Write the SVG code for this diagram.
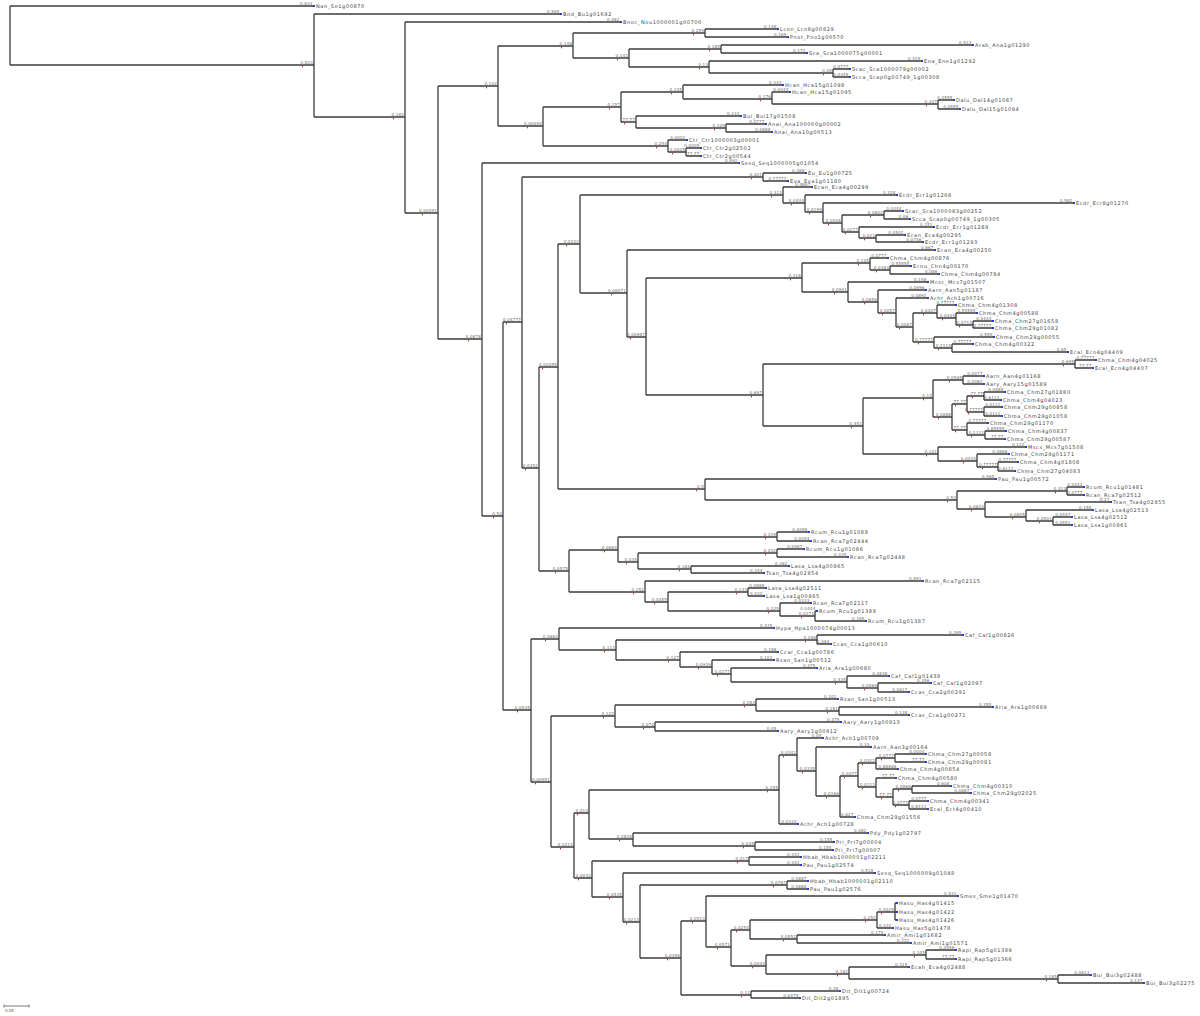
<svg xmlns="http://www.w3.org/2000/svg" width="1200" height="1016" viewBox="0 0 1200 1016">
<style>
.b{fill:none;stroke:#3c3c3c;stroke-width:1.3}
.n{font-family:"DejaVu Sans",sans-serif;font-size:5px;letter-spacing:0.6px;fill:#444}
.l{font-family:"DejaVu Sans",sans-serif;font-size:4px;letter-spacing:0.2px;fill:#666;text-anchor:end}
.t{fill:#2a3bd0}
.r{fill:#d02020}
</style>
<rect width="1200" height="1016" fill="#fff"/>
<g id="connectors">
<path class="b" d="M10 6V65M10 6H313M10 65H314M314 14V117M314 14H560M314 117H405M405 22V213M405 22H620M405 213H438M438 86V339M438 86H498M498 46V126M498 46H573M573 33V58M573 33H705M705 29V37M705 29H777M705 37H787M573 58H629M629 49V67M629 49H721M721 45V53M721 45H972M721 53H806M629 67H709M709 61V73M709 61H921M709 73H833M833 69V77M833 69H849M833 77H849M498 126H543M543 107V146M543 107H621M621 92V122M621 92H683M683 85V99M683 85H782M683 99H772M772 92V104M772 92H789M772 104H938M938 100V109M938 100H953M938 109H959M621 122H636M636 116V128M636 116H740M636 128H726M726 124V132M726 124H765M726 132H771M543 146H668M668 140V152M668 140H686M668 152H686M686 148V156M686 148H700M686 156H700"/>
<path class="b" d="M438 339H482M482 163V516M482 163H738M482 516H503M503 322V710M503 322H522M522 177V468M522 177H763M763 173V181M763 173H805M763 181H787M522 468H539M539 367V571M539 367H558M558 244V489M558 244H580M580 195V293M580 195H783M783 187V203M783 187H811M783 203H805M805 195V212M805 195H896M805 212H823M823 203V223M823 203H1073M823 223H842M842 215V232M842 215H884M842 232H859M884 211V219M884 211H902M884 219H909M859 227V238M859 227H933M859 238H876M876 235V242M876 235H904M876 242H922M580 293H627M627 250V337M627 250H934M627 337H646M646 278V395M646 278H802M802 263V292M802 263H870M870 258V270M870 258H887M870 270H890M890 266V274M890 266H910M890 274H938M802 292H848M848 282V302M848 282H927M848 302H878M878 290V313M878 290H925M878 313H896M896 298V327M896 298H927M896 327H913M913 313V342M913 313H937M937 305V318M937 305H955M937 318H956M956 313V325M956 313H976M956 325H973M973 321V328M973 321H992M973 328H992M913 342H934M934 337V348M934 337H993M934 348H952M952 344V352M952 344H972M952 352H1067"/>
<path class="b" d="M646 395H763M763 364V426M763 364H1075M1075 360V368M1075 360H1095M1075 368H1092M763 426H863M863 398V454M863 398H933M933 380V417M933 380H963M963 376V384M963 376H983M963 384H983M933 417H952M952 404V430M952 404H967M967 396V412M967 396H984M984 392V400M984 392H1004M984 400H1000M967 412H984M984 407V416M984 407H1001M984 416H1001M952 430H967M967 423V435M967 423H987M967 435H985M985 431V439M985 431H1005M985 439H1004M863 454H938M938 447V461M938 447H1025M938 461H977M977 454V467M977 454H1008M977 467H998M998 462V471M998 462H1017M998 471H1014M558 489H705M705 479V500M705 479H995M705 500H957M957 491V509M957 491H1067M1067 487V495M1067 487H1083M1067 495H1083M957 509H985M985 502V517M985 502H1110M985 517H1026M1026 510V521M1026 510H1092M1026 521H1053M1053 517V525M1053 517H1071M1053 525H1071"/>
<path class="b" d="M539 571H569M569 550V592M569 550H618M618 537V562M618 537H777M777 532V541M777 532H808M777 541H810M618 562H638M638 553V569M638 553H777M777 549V557M777 549H803M777 557H847M638 569H691M691 566V573M691 566H788M691 573H763M569 592H645M645 581V602M645 581H922M645 602H668M668 592V611M668 592H748M748 588V596M748 588H765M748 596H763M668 611H780M780 603V616M780 603H810M780 616H815M815 611V621M815 611H816M815 621H865"/>
<path class="b" d="M503 710H531M531 639V782M531 639H559M559 628V650M559 628H773M559 650H616M616 640V660M616 640H817M817 635V644M817 635H962M817 644H830M616 660H680M680 652V667M680 652H777M680 667H712M712 660V674M712 660H773M712 674H731M731 668V682M731 668H816M731 682H847M847 676V688M847 676H888M847 688H878M878 683V692M878 683H930M878 692H908M531 782H551M551 716V847M551 716H615M615 705V727M615 705H756M756 699V711M756 699H837M756 711H839M839 707V715M839 707H992M839 715H908M615 727H655M655 722V731M655 722H840M655 731H777"/>
<path class="b" d="M551 847H574M574 813V878M574 813H589M589 790V839M589 790H779M779 755V824M779 755H797M797 738V771M797 738H822M797 771H816M816 747V796M816 747H870M816 796H840M840 776V817M840 776H858M858 763V787M858 763H876M876 758V769M876 758H895M876 769H897M895 754V762M895 754H925M895 762H925M858 787H876M876 778V797M876 778H895M876 797H893M893 789V805M893 789H912M912 786V793M912 786H950M912 793H970M893 805H909M909 801V809M909 801H927M909 809H927M840 817H854M779 824H797M589 839H633M633 833V846M633 833H867M633 846H755M755 842V850M755 842H833M755 850H832"/>
<path class="b" d="M574 878H592M592 861V897M592 861H749M749 857V865M749 857H800M749 865H800M592 897H623M623 873V922M623 873H874M623 922H640M640 885V958M640 885H787M787 881V889M787 881H807M787 889H807M640 958H681M681 921V995M681 921H706M706 896V947M706 896H957M706 947H731M731 930V966M731 930H750M750 920V939M750 920H877M877 912V928M877 912H895M877 928H892M895 903V920M895 903H896M895 912H896M895 920H896M750 939H797M797 935V943M797 935H884M797 943H910M731 966H766M766 955V974M766 955H926M926 950V959M926 950H955M926 959H955M766 974H849M849 967V979M849 967H908M849 979H1058M1058 975V983M1058 975H1090M1058 983H1143M681 995H751M751 991V998M751 991H839M751 998H799"/>
</g>
<g id="internal-nodes">
<g id="N314"><text class="l" x="313" y="64.2">0.833</text><rect class="r" x="302" y="65.8" width="1" height="1.5"/></g>
<g id="N405"><text class="l" x="404" y="116.2">0.182</text><rect class="r" x="393" y="117.8" width="1" height="1.5"/></g>
<g id="N438"><text class="l" x="437" y="212.2">0.00091</text><rect class="r" x="422" y="213.8" width="1" height="1.5"/></g>
<g id="N498"><text class="l" x="497" y="85.2">0.102</text><rect class="r" x="486" y="86.8" width="1" height="1.5"/></g>
<g id="N573"><text class="l" x="572" y="45.2">0.148</text><rect class="r" x="561" y="46.8" width="1" height="1.5"/></g>
<g id="N705a"><text class="l" x="704" y="32.2">0.259</text><rect class="r" x="693" y="33.8" width="1" height="1.5"/></g>
<g id="N629"><text class="l" x="628" y="57.2">0.143</text><rect class="r" x="617" y="58.8" width="1" height="1.5"/></g>
<g id="N721"><text class="l" x="720" y="48.2">0.185</text><rect class="r" x="709" y="49.8" width="1" height="1.5"/></g>
<g id="N709"><text class="l" x="708" y="66.2">0.13</text><rect class="r" x="699" y="67.8" width="1" height="1.5"/></g>
<g id="N833"><text class="l" x="832" y="72.2">0.05</text><rect class="r" x="823" y="73.8" width="1" height="1.5"/></g>
<g id="N543"><text class="l" x="542" y="125.2">0.00094</text><rect class="r" x="527" y="126.8" width="1" height="1.5"/></g>
<g id="N621"><text class="l" x="620" y="106.2">0.157</text><rect class="r" x="609" y="107.8" width="1" height="1.5"/></g>
<g id="N683"><text class="l" x="682" y="91.2">0.105</text><rect class="r" x="671" y="92.8" width="1" height="1.5"/></g>
<g id="N772"><text class="l" x="771" y="98.2">0.176</text><rect class="r" x="760" y="99.8" width="1" height="1.5"/></g>
<g id="N938a"><text class="l" x="937" y="103.2">0.347</text><rect class="r" x="926" y="104.8" width="1" height="1.5"/></g>
<g id="N636"><text class="l" x="635" y="121.2">77.77</text><rect class="r" x="624" y="122.8" width="1" height="1.5"/></g>
<g id="N726"><text class="l" x="725" y="127.2">0.109</text><rect class="r" x="714" y="128.8" width="1" height="1.5"/></g>
<g id="N668a"><text class="l" x="667" y="145.2">0.254</text><rect class="r" x="656" y="146.8" width="1" height="1.5"/></g>
<g id="N686"><text class="l" x="685" y="151.2">0.0005</text><rect class="r" x="672" y="152.8" width="1" height="1.5"/></g>
<g id="N482"><text class="l" x="481" y="338.2">0.0878</text><rect class="r" x="468" y="339.8" width="1" height="1.5"/></g>
<g id="N503"><text class="l" x="502" y="515.2">0.54</text><rect class="r" x="493" y="516.8" width="1" height="1.5"/></g>
<g id="N522"><text class="l" x="521" y="321.2">0.04777</text><rect class="r" x="506" y="322.8" width="1" height="1.5"/></g>
<g id="N763a"><text class="l" x="762" y="176.2">0.401</text><rect class="r" x="751" y="177.8" width="1" height="1.5"/></g>
<g id="N539"><text class="l" x="538" y="467.2">0.0452</text><rect class="r" x="525" y="468.8" width="1" height="1.5"/></g>
<g id="N558"><text class="l" x="557" y="366.2">0.00095</text><rect class="r" x="542" y="367.8" width="1" height="1.5"/></g>
<g id="N580"><text class="l" x="579" y="243.2">0.0222</text><rect class="r" x="566" y="244.8" width="1" height="1.5"/></g>
<g id="N783"><text class="l" x="782" y="194.2">0.312</text><rect class="r" x="771" y="195.8" width="1" height="1.5"/></g>
<g id="N805"><text class="l" x="804" y="202.2">0.0444</text><rect class="r" x="791" y="203.8" width="1" height="1.5"/></g>
<g id="N823"><text class="l" x="822" y="211.2">0.0199</text><rect class="r" x="809" y="212.8" width="1" height="1.5"/></g>
<g id="N842"><text class="l" x="841" y="222.2">0.0006</text><rect class="r" x="828" y="223.8" width="1" height="1.5"/></g>
<g id="N884"><text class="l" x="883" y="214.2">0.0602</text><rect class="r" x="870" y="215.8" width="1" height="1.5"/></g>
<g id="N859"><text class="l" x="858" y="231.2">0.0277</text><rect class="r" x="845" y="232.8" width="1" height="1.5"/></g>
<g id="N876a"><text class="l" x="875" y="237.2">0.023</text><rect class="r" x="864" y="238.8" width="1" height="1.5"/></g>
<g id="N627"><text class="l" x="626" y="292.2">0.00071</text><rect class="r" x="611" y="293.8" width="1" height="1.5"/></g>
<g id="N646"><text class="l" x="645" y="336.2">0.00987</text><rect class="r" x="630" y="337.8" width="1" height="1.5"/></g>
<g id="N802"><text class="l" x="801" y="277.2">0.316</text><rect class="r" x="790" y="278.8" width="1" height="1.5"/></g>
<g id="N870"><text class="l" x="869" y="262.2">0.105</text><rect class="r" x="858" y="263.8" width="1" height="1.5"/></g>
<g id="N890"><text class="l" x="889" y="269.2">0.0383</text><rect class="r" x="876" y="270.8" width="1" height="1.5"/></g>
<g id="N848"><text class="l" x="847" y="291.2">0.0901</text><rect class="r" x="834" y="292.8" width="1" height="1.5"/></g>
<g id="N878a"><text class="l" x="877" y="301.2">0.0656</text><rect class="r" x="864" y="302.8" width="1" height="1.5"/></g>
<g id="N896"><text class="l" x="895" y="312.2">0.0057</text><rect class="r" x="882" y="313.8" width="1" height="1.5"/></g>
<g id="N913"><text class="l" x="912" y="326.2">0.0067</text><rect class="r" x="899" y="327.8" width="1" height="1.5"/></g>
<g id="N937"><text class="l" x="936" y="312.2">0.0447</text><rect class="r" x="923" y="313.8" width="1" height="1.5"/></g>
<g id="N956"><text class="l" x="955" y="317.2">0.0444</text><rect class="r" x="942" y="318.8" width="1" height="1.5"/></g>
<g id="N973"><text class="l" x="972" y="324.2">0.0714</text><rect class="r" x="959" y="325.8" width="1" height="1.5"/></g>
<g id="N934"><text class="l" x="933" y="341.2">0.77777</text><rect class="r" x="918" y="342.8" width="1" height="1.5"/></g>
<g id="N952a"><text class="l" x="951" y="347.2">0.2114</text><rect class="r" x="938" y="348.8" width="1" height="1.5"/></g>
<g id="N763b"><text class="l" x="762" y="394.2">0.697</text><rect class="r" x="751" y="395.8" width="1" height="1.5"/></g>
<g id="N1075"><text class="l" x="1074" y="363.2">0.695</text><rect class="r" x="1063" y="364.8" width="1" height="1.5"/></g>
<g id="N863"><text class="l" x="862" y="425.2">0.451</text><rect class="r" x="851" y="426.8" width="1" height="1.5"/></g>
<g id="N933"><text class="l" x="932" y="397.2">0.14</text><rect class="r" x="923" y="398.8" width="1" height="1.5"/></g>
<g id="N963"><text class="l" x="962" y="379.2">0.0565</text><rect class="r" x="949" y="380.8" width="1" height="1.5"/></g>
<g id="N952b"><text class="l" x="951" y="416.2">0.0888</text><rect class="r" x="938" y="417.8" width="1" height="1.5"/></g>
<g id="N967a"><text class="l" x="966" y="403.2">77.77</text><rect class="r" x="955" y="404.8" width="1" height="1.5"/></g>
<g id="N984a"><text class="l" x="983" y="395.2">77.77</text><rect class="r" x="972" y="396.8" width="1" height="1.5"/></g>
<g id="N984b"><text class="l" x="983" y="411.2">0.77777</text><rect class="r" x="968" y="412.8" width="1" height="1.5"/></g>
<g id="N967b"><text class="l" x="966" y="429.2">77.77</text><rect class="r" x="955" y="430.8" width="1" height="1.5"/></g>
<g id="N985a"><text class="l" x="984" y="434.2">0.2111</text><rect class="r" x="971" y="435.8" width="1" height="1.5"/></g>
<g id="N938b"><text class="l" x="937" y="453.2">0.101</text><rect class="r" x="926" y="454.8" width="1" height="1.5"/></g>
<g id="N977"><text class="l" x="976" y="460.2">0.0034</text><rect class="r" x="963" y="461.8" width="1" height="1.5"/></g>
<g id="N998"><text class="l" x="997" y="466.2">0.77777</text><rect class="r" x="982" y="467.8" width="1" height="1.5"/></g>
<g id="N705b"><text class="l" x="704" y="488.2">0.5</text><rect class="r" x="696" y="489.8" width="1" height="1.5"/></g>
<g id="N957"><text class="l" x="956" y="499.2">0.53</text><rect class="r" x="947" y="500.8" width="1" height="1.5"/></g>
<g id="N1067"><text class="l" x="1066" y="490.2">0.323</text><rect class="r" x="1055" y="491.8" width="1" height="1.5"/></g>
<g id="N985b"><text class="l" x="984" y="508.2">0.0643</text><rect class="r" x="971" y="509.8" width="1" height="1.5"/></g>
<g id="N1026"><text class="l" x="1025" y="516.2">0.0805</text><rect class="r" x="1012" y="517.8" width="1" height="1.5"/></g>
<g id="N1053"><text class="l" x="1052" y="520.2">0.0501</text><rect class="r" x="1039" y="521.8" width="1" height="1.5"/></g>
<g id="N569"><text class="l" x="568" y="570.2">0.0575</text><rect class="r" x="555" y="571.8" width="1" height="1.5"/></g>
<g id="N618"><text class="l" x="617" y="549.2">0.0664</text><rect class="r" x="604" y="550.8" width="1" height="1.5"/></g>
<g id="N777a"><text class="l" x="776" y="536.2">0.319</text><rect class="r" x="765" y="537.8" width="1" height="1.5"/></g>
<g id="N638"><text class="l" x="637" y="561.2">0.035</text><rect class="r" x="626" y="562.8" width="1" height="1.5"/></g>
<g id="N777b"><text class="l" x="776" y="552.2">0.202</text><rect class="r" x="765" y="553.8" width="1" height="1.5"/></g>
<g id="N691"><text class="l" x="690" y="568.2">0.184</text><rect class="r" x="679" y="569.8" width="1" height="1.5"/></g>
<g id="N645"><text class="l" x="644" y="591.2">0.152</text><rect class="r" x="633" y="592.8" width="1" height="1.5"/></g>
<g id="N668b"><text class="l" x="667" y="601.2">0.0455</text><rect class="r" x="654" y="602.8" width="1" height="1.5"/></g>
<g id="N748"><text class="l" x="747" y="591.2">0.133</text><rect class="r" x="736" y="592.8" width="1" height="1.5"/></g>
<g id="N780"><text class="l" x="779" y="610.2">0.225</text><rect class="r" x="768" y="611.8" width="1" height="1.5"/></g>
<g id="N815"><text class="l" x="814" y="615.2">0.0274</text><rect class="r" x="801" y="616.8" width="1" height="1.5"/></g>
<g id="N531"><text class="l" x="530" y="709.2">0.0535</text><rect class="r" x="517" y="710.8" width="1" height="1.5"/></g>
<g id="N559"><text class="l" x="558" y="638.2">0.0664</text><rect class="r" x="545" y="639.8" width="1" height="1.5"/></g>
<g id="N616"><text class="l" x="615" y="649.2">0.113</text><rect class="r" x="604" y="650.8" width="1" height="1.5"/></g>
<g id="N817"><text class="l" x="816" y="639.2">0.268</text><rect class="r" x="805" y="640.8" width="1" height="1.5"/></g>
<g id="N680"><text class="l" x="679" y="659.2">0.127</text><rect class="r" x="668" y="660.8" width="1" height="1.5"/></g>
<g id="N712"><text class="l" x="711" y="666.2">0.0939</text><rect class="r" x="698" y="667.8" width="1" height="1.5"/></g>
<g id="N731a"><text class="l" x="730" y="673.2">0.0277</text><rect class="r" x="717" y="674.8" width="1" height="1.5"/></g>
<g id="N847"><text class="l" x="846" y="681.2">0.435</text><rect class="r" x="835" y="682.8" width="1" height="1.5"/></g>
<g id="N878b"><text class="l" x="877" y="687.2">0.0569</text><rect class="r" x="864" y="688.8" width="1" height="1.5"/></g>
<g id="N551"><text class="l" x="550" y="781.2">0.00951</text><rect class="r" x="535" y="782.8" width="1" height="1.5"/></g>
<g id="N615"><text class="l" x="614" y="715.2">0.122</text><rect class="r" x="603" y="716.8" width="1" height="1.5"/></g>
<g id="N756"><text class="l" x="755" y="704.2">0.283</text><rect class="r" x="744" y="705.8" width="1" height="1.5"/></g>
<g id="N839"><text class="l" x="838" y="710.2">0.161</text><rect class="r" x="827" y="711.8" width="1" height="1.5"/></g>
<g id="N655"><text class="l" x="654" y="726.2">0.074</text><rect class="r" x="643" y="727.8" width="1" height="1.5"/></g>
<g id="N574"><text class="l" x="573" y="846.2">0.0414</text><rect class="r" x="560" y="847.8" width="1" height="1.5"/></g>
<g id="N589"><text class="l" x="588" y="812.2">0.014</text><rect class="r" x="577" y="813.8" width="1" height="1.5"/></g>
<g id="N779"><text class="l" x="778" y="789.2">0.155</text><rect class="r" x="767" y="790.8" width="1" height="1.5"/></g>
<g id="N797a"><text class="l" x="796" y="754.2">0.0341</text><rect class="r" x="783" y="755.8" width="1" height="1.5"/></g>
<g id="N816"><text class="l" x="815" y="770.2">0.0335</text><rect class="r" x="802" y="771.8" width="1" height="1.5"/></g>
<g id="N840"><text class="l" x="839" y="795.2">0.0166</text><rect class="r" x="826" y="796.8" width="1" height="1.5"/></g>
<g id="N858"><text class="l" x="857" y="775.2">0.0477</text><rect class="r" x="844" y="776.8" width="1" height="1.5"/></g>
<g id="N876b"><text class="l" x="875" y="762.2">0.0322</text><rect class="r" x="862" y="763.8" width="1" height="1.5"/></g>
<g id="N895a"><text class="l" x="894" y="757.2">0.0777</text><rect class="r" x="881" y="758.8" width="1" height="1.5"/></g>
<g id="N876c"><text class="l" x="875" y="786.2">0.0111</text><rect class="r" x="862" y="787.8" width="1" height="1.5"/></g>
<g id="N893"><text class="l" x="892" y="796.2">77.77</text><rect class="r" x="881" y="797.8" width="1" height="1.5"/></g>
<g id="N912"><text class="l" x="911" y="788.2">0.0868</text><rect class="r" x="898" y="789.8" width="1" height="1.5"/></g>
<g id="N909"><text class="l" x="908" y="804.2">0.0777</text><rect class="r" x="895" y="805.8" width="1" height="1.5"/></g>
<g id="N633"><text class="l" x="632" y="838.2">0.0828</text><rect class="r" x="619" y="839.8" width="1" height="1.5"/></g>
<g id="N755"><text class="l" x="754" y="845.2">0.045</text><rect class="r" x="743" y="846.8" width="1" height="1.5"/></g>
<g id="N592"><text class="l" x="591" y="877.2">0.0032</text><rect class="r" x="578" y="878.8" width="1" height="1.5"/></g>
<g id="N749"><text class="l" x="748" y="860.2">0.017</text><rect class="r" x="737" y="861.8" width="1" height="1.5"/></g>
<g id="N623"><text class="l" x="622" y="896.2">0.0535</text><rect class="r" x="609" y="897.8" width="1" height="1.5"/></g>
<g id="N787"><text class="l" x="786" y="884.2">0.0767</text><rect class="r" x="773" y="885.8" width="1" height="1.5"/></g>
<g id="N640"><text class="l" x="639" y="921.2">0.0213</text><rect class="r" x="626" y="922.8" width="1" height="1.5"/></g>
<g id="N681"><text class="l" x="680" y="957.2">0.0356</text><rect class="r" x="667" y="958.8" width="1" height="1.5"/></g>
<g id="N706"><text class="l" x="705" y="920.2">0.0513</text><rect class="r" x="692" y="921.8" width="1" height="1.5"/></g>
<g id="N731b"><text class="l" x="730" y="946.2">0.0571</text><rect class="r" x="717" y="947.8" width="1" height="1.5"/></g>
<g id="N750"><text class="l" x="749" y="929.2">0.0254</text><rect class="r" x="736" y="930.8" width="1" height="1.5"/></g>
<g id="N877"><text class="l" x="876" y="919.2">0.252</text><rect class="r" x="865" y="920.8" width="1" height="1.5"/></g>
<g id="N895b"><text class="l" x="894" y="911.2">0.0025</text><rect class="r" x="881" y="912.8" width="1" height="1.5"/></g>
<g id="N797b"><text class="l" x="796" y="938.2">0.0552</text><rect class="r" x="783" y="939.8" width="1" height="1.5"/></g>
<g id="N766"><text class="l" x="765" y="965.2">0.0044</text><rect class="r" x="752" y="966.8" width="1" height="1.5"/></g>
<g id="N926"><text class="l" x="925" y="954.2">0.345</text><rect class="r" x="914" y="955.8" width="1" height="1.5"/></g>
<g id="N849"><text class="l" x="848" y="973.2">0.182</text><rect class="r" x="837" y="974.8" width="1" height="1.5"/></g>
<g id="N1058"><text class="l" x="1057" y="978.2">0.185</text><rect class="r" x="1046" y="979.8" width="1" height="1.5"/></g>
<g id="N751"><text class="l" x="750" y="994.2">0.11</text><rect class="r" x="741" y="995.8" width="1" height="1.5"/></g>
</g>
<g id="leaves">
<g id="L1"><rect class="t" x="313" y="5" width="2" height="2"/><text class="l" x="312.5" y="5.2">0.833</text><text class="n" x="316" y="8">Nan_Se1g00870</text></g>
<g id="L2"><rect class="t" x="560" y="13" width="2" height="2"/><text class="l" x="559.5" y="13.2">0.565</text><text class="n" x="563" y="16">Bnd_Bu1g01692</text></g>
<g id="L3"><rect class="t" x="620" y="21" width="2" height="2"/><text class="l" x="619.5" y="21.2">0.482</text><text class="n" x="623" y="24">Bnoc_Nou1000001g00700</text></g>
<g id="L4"><rect class="t" x="777" y="28" width="2" height="2"/><text class="l" x="776.5" y="28.2">0.148</text><text class="n" x="780" y="31">Lcon_Lcn8g00829</text></g>
<g id="L5"><rect class="t" x="787" y="36" width="2" height="2"/><text class="l" x="786.5" y="36.2">0.169</text><text class="n" x="790" y="39">Pnot_Pno1g00570</text></g>
<g id="L6"><rect class="t" x="972" y="44" width="2" height="2"/><text class="l" x="971.5" y="44.2">0.513</text><text class="n" x="975" y="47">Arab_Ana1g01290</text></g>
<g id="L7"><rect class="t" x="806" y="52" width="2" height="2"/><text class="l" x="805.5" y="52.2">0.172</text><text class="n" x="809" y="55">Sca_Sca1000075g00001</text></g>
<g id="L8"><rect class="t" x="921" y="60" width="2" height="2"/><text class="l" x="920.5" y="60.2">0.419</text><text class="n" x="924" y="63">Ena_Ene1g01292</text></g>
<g id="L9"><rect class="t" x="849" y="68" width="2" height="2"/><text class="l" x="848.5" y="68.2">0.0777</text><text class="n" x="852" y="71">Scac_Sca1000079g00002</text></g>
<g id="L10"><rect class="t" x="849" y="76" width="2" height="2"/><text class="l" x="848.5" y="76.2">0.0345</text><text class="n" x="852" y="79">Scca_Scap0g00749_1g00308</text></g>
<g id="L11"><rect class="t" x="782" y="84" width="2" height="2"/><text class="l" x="781.5" y="84.2">0.333</text><text class="n" x="785" y="87">Hcan_Hca15g01098</text></g>
<g id="L12"><rect class="t" x="789" y="91" width="2" height="2"/><text class="l" x="788.5" y="91.2">0.0444</text><text class="n" x="792" y="94">Hcan_Hca15g01095</text></g>
<g id="L13"><rect class="t" x="953" y="99" width="2" height="2"/><text class="l" x="952.5" y="99.2">0.0555</text><text class="n" x="956" y="102">Dalu_Dal14g01087</text></g>
<g id="L14"><rect class="t" x="959" y="108" width="2" height="2"/><text class="l" x="958.5" y="108.2">0.0555</text><text class="n" x="962" y="111">Dalu_Dal15g01094</text></g>
<g id="L15"><rect class="t" x="740" y="115" width="2" height="2"/><text class="l" x="739.5" y="115.2">0.233</text><text class="n" x="743" y="118">Bui_Bui17g01508</text></g>
<g id="L16"><rect class="t" x="765" y="123" width="2" height="2"/><text class="l" x="764.5" y="123.2">0.0777</text><text class="n" x="768" y="126">Anai_Ana100000g00002</text></g>
<g id="L17"><rect class="t" x="771" y="131" width="2" height="2"/><text class="l" x="770.5" y="131.2">0.0888</text><text class="n" x="774" y="134">Anai_Ana10g00513</text></g>
<g id="L18"><rect class="t" x="686" y="139" width="2" height="2"/><text class="l" x="685.5" y="139.2">0.0002</text><text class="n" x="689" y="142">Ctr_Ctr1000003g00001</text></g>
<g id="L19"><rect class="t" x="700" y="147" width="2" height="2"/><text class="l" x="699.5" y="147.2">0.0005</text><text class="n" x="703" y="150">Ctr_Ctr2g02502</text></g>
<g id="L20"><rect class="t" x="700" y="155" width="2" height="2"/><text class="l" x="699.5" y="155.2">77.77</text><text class="n" x="703" y="158">Ctr_Ctr2g00544</text></g>
<g id="L21"><rect class="t" x="738" y="162" width="2" height="2"/><text class="l" x="737.5" y="162.2">0.592</text><text class="n" x="741" y="165">Sesq_Seq1000005g01054</text></g>
<g id="L22"><rect class="t" x="805" y="172" width="2" height="2"/><text class="l" x="804.5" y="172.2">0.388</text><text class="n" x="808" y="175">Eu_Eu1g00725</text></g>
<g id="L23"><rect class="t" x="787" y="180" width="2" height="2"/><text class="l" x="786.5" y="180.2">0.77777</text><text class="n" x="790" y="183">Eva_Eva1g01180</text></g>
<g id="L24"><rect class="t" x="811" y="186" width="2" height="2"/><text class="l" x="810.5" y="186.2">0.0887</text><text class="n" x="814" y="189">Ecan_Eca4g00299</text></g>
<g id="L25"><rect class="t" x="896" y="194" width="2" height="2"/><text class="l" x="895.5" y="194.2">0.328</text><text class="n" x="899" y="197">Ecdr_Ecr1g01268</text></g>
<g id="L26"><rect class="t" x="1073" y="202" width="2" height="2"/><text class="l" x="1072.5" y="202.2">0.582</text><text class="n" x="1076" y="205">Ecdr_Ecr8g01270</text></g>
<g id="L27"><rect class="t" x="902" y="210" width="2" height="2"/><text class="l" x="901.5" y="210.2">0.0444</text><text class="n" x="905" y="213">Scac_Sca1000083g00252</text></g>
<g id="L28"><rect class="t" x="909" y="218" width="2" height="2"/><text class="l" x="908.5" y="218.2">0.06</text><text class="n" x="912" y="221">Scca_Scap0g00749_1g00305</text></g>
<g id="L29"><rect class="t" x="933" y="226" width="2" height="2"/><text class="l" x="932.5" y="226.2">0.151</text><text class="n" x="936" y="229">Ecdr_Ecr1g01289</text></g>
<g id="L30"><rect class="t" x="904" y="234" width="2" height="2"/><text class="l" x="903.5" y="234.2">0.0502</text><text class="n" x="907" y="237">Ecan_Eca4g00295</text></g>
<g id="L31"><rect class="t" x="922" y="241" width="2" height="2"/><text class="l" x="921.5" y="241.2">0.0746</text><text class="n" x="925" y="244">Ecdr_Ecr1g01293</text></g>
<g id="L32"><rect class="t" x="934" y="249" width="2" height="2"/><text class="l" x="933.5" y="249.2">0.667</text><text class="n" x="937" y="252">Ecan_Eca4g00250</text></g>
<g id="L33"><rect class="t" x="887" y="257" width="2" height="2"/><text class="l" x="886.5" y="257.2">0.0777</text><text class="n" x="890" y="260">Chma_Chm4g00876</text></g>
<g id="L34"><rect class="t" x="910" y="265" width="2" height="2"/><text class="l" x="909.5" y="265.2">0.55555</text><text class="n" x="913" y="268">Ecnu_Chn4g00170</text></g>
<g id="L35"><rect class="t" x="938" y="273" width="2" height="2"/><text class="l" x="937.5" y="273.2">0.086</text><text class="n" x="941" y="276">Chma_Chm4g00784</text></g>
<g id="L36"><rect class="t" x="927" y="281" width="2" height="2"/><text class="l" x="926.5" y="281.2">0.158</text><text class="n" x="930" y="284">Mcsc_Mcs7g01507</text></g>
<g id="L37"><rect class="t" x="925" y="289" width="2" height="2"/><text class="l" x="924.5" y="289.2">0.0696</text><text class="n" x="928" y="292">Aarn_Aan5g01187</text></g>
<g id="L38"><rect class="t" x="927" y="297" width="2" height="2"/><text class="l" x="926.5" y="297.2">0.0892</text><text class="n" x="930" y="300">Achr_Ach1g00716</text></g>
<g id="L39"><rect class="t" x="955" y="304" width="2" height="2"/><text class="l" x="954.5" y="304.2">0.77777</text><text class="n" x="958" y="307">Chma_Chm4g01308</text></g>
<g id="L40"><rect class="t" x="976" y="312" width="2" height="2"/><text class="l" x="975.5" y="312.2">0.55555</text><text class="n" x="979" y="315">Chma_Chm4g00588</text></g>
<g id="L41"><rect class="t" x="992" y="320" width="2" height="2"/><text class="l" x="991.5" y="320.2">0.0444</text><text class="n" x="995" y="323">Chma_Chm27g01658</text></g>
<g id="L42"><rect class="t" x="992" y="327" width="2" height="2"/><text class="l" x="991.5" y="327.2">0.77777</text><text class="n" x="995" y="330">Chma_Chm29g01082</text></g>
<g id="L43"><rect class="t" x="993" y="336" width="2" height="2"/><text class="l" x="992.5" y="336.2">0.555</text><text class="n" x="996" y="339">Chma_Chm29g00055</text></g>
<g id="L44"><rect class="t" x="972" y="343" width="2" height="2"/><text class="l" x="971.5" y="343.2">0.77777</text><text class="n" x="975" y="346">Chma_Chm4g00322</text></g>
<g id="L45"><rect class="t" x="1067" y="351" width="2" height="2"/><text class="l" x="1066.5" y="351.2">0.65</text><text class="n" x="1070" y="354">Ecal_Ecn4g04409</text></g>
<g id="L46"><rect class="t" x="1095" y="359" width="2" height="2"/><text class="l" x="1094.5" y="359.2">0.77777</text><text class="n" x="1098" y="362">Chma_Chm4g04025</text></g>
<g id="L47"><rect class="t" x="1092" y="367" width="2" height="2"/><text class="l" x="1091.5" y="367.2">77.77</text><text class="n" x="1095" y="370">Ecal_Ecn4g04407</text></g>
<g id="L48"><rect class="t" x="983" y="375" width="2" height="2"/><text class="l" x="982.5" y="375.2">0.0077</text><text class="n" x="986" y="378">Aarn_Aan4g01168</text></g>
<g id="L49"><rect class="t" x="983" y="383" width="2" height="2"/><text class="l" x="982.5" y="383.2">0.0082</text><text class="n" x="986" y="386">Aary_Aary15g01589</text></g>
<g id="L50"><rect class="t" x="1004" y="391" width="2" height="2"/><text class="l" x="1003.5" y="391.2">0.0888</text><text class="n" x="1007" y="394">Chma_Chm27g01880</text></g>
<g id="L51"><rect class="t" x="1000" y="399" width="2" height="2"/><text class="l" x="999.5" y="399.2">0.6111</text><text class="n" x="1003" y="402">Chma_Chm4g04023</text></g>
<g id="L52"><rect class="t" x="1001" y="406" width="2" height="2"/><text class="l" x="1000.5" y="406.2">0.0111</text><text class="n" x="1004" y="409">Chma_Chm29g00858</text></g>
<g id="L53"><rect class="t" x="1001" y="415" width="2" height="2"/><text class="l" x="1000.5" y="415.2">0.0111</text><text class="n" x="1004" y="418">Chma_Chm29g01058</text></g>
<g id="L54"><rect class="t" x="987" y="422" width="2" height="2"/><text class="l" x="986.5" y="422.2">0.77777</text><text class="n" x="990" y="425">Chma_Chm29g01170</text></g>
<g id="L55"><rect class="t" x="1005" y="430" width="2" height="2"/><text class="l" x="1004.5" y="430.2">0.65555</text><text class="n" x="1008" y="433">Chma_Chm4g00837</text></g>
<g id="L56"><rect class="t" x="1004" y="438" width="2" height="2"/><text class="l" x="1003.5" y="438.2">77.77</text><text class="n" x="1007" y="441">Chma_Chm29g00587</text></g>
<g id="L57"><rect class="t" x="1025" y="446" width="2" height="2"/><text class="l" x="1024.5" y="446.2">0.122</text><text class="n" x="1028" y="449">Mscs_Mcs7g01508</text></g>
<g id="L58"><rect class="t" x="1008" y="453" width="2" height="2"/><text class="l" x="1007.5" y="453.2">0.0888</text><text class="n" x="1011" y="456">Chma_Chm29g01171</text></g>
<g id="L59"><rect class="t" x="1017" y="461" width="2" height="2"/><text class="l" x="1016.5" y="461.2">0.77777</text><text class="n" x="1020" y="464">Chma_Chm4g01808</text></g>
<g id="L60"><rect class="t" x="1014" y="470" width="2" height="2"/><text class="l" x="1013.5" y="470.2">0.6111</text><text class="n" x="1017" y="473">Chma_Chm27g04083</text></g>
<g id="L61"><rect class="t" x="995" y="478" width="2" height="2"/><text class="l" x="994.5" y="478.2">0.565</text><text class="n" x="998" y="481">Pau_Pau1g00572</text></g>
<g id="L62"><rect class="t" x="1083" y="486" width="2" height="2"/><text class="l" x="1082.5" y="486.2">0.0444</text><text class="n" x="1086" y="489">Rcum_Rcu1g01481</text></g>
<g id="L63"><rect class="t" x="1083" y="494" width="2" height="2"/><text class="l" x="1082.5" y="494.2">0.0777</text><text class="n" x="1086" y="497">Rcan_Rca7g02512</text></g>
<g id="L64"><rect class="t" x="1110" y="501" width="2" height="2"/><text class="l" x="1109.5" y="501.2">0.27</text><text class="n" x="1113" y="504">Tsan_Tsa4g02855</text></g>
<g id="L65"><rect class="t" x="1092" y="509" width="2" height="2"/><text class="l" x="1091.5" y="509.2">0.158</text><text class="n" x="1095" y="512">Lasa_Lsa4g02513</text></g>
<g id="L66"><rect class="t" x="1071" y="516" width="2" height="2"/><text class="l" x="1070.5" y="516.2">0.0447</text><text class="n" x="1074" y="519">Lasa_Lsa4g02512</text></g>
<g id="L67"><rect class="t" x="1071" y="524" width="2" height="2"/><text class="l" x="1070.5" y="524.2">0.0551</text><text class="n" x="1074" y="527">Lasa_Lsa1g00861</text></g>
<g id="L68"><rect class="t" x="808" y="531" width="2" height="2"/><text class="l" x="807.5" y="531.2">0.0098</text><text class="n" x="811" y="534">Rcum_Rcu1g01088</text></g>
<g id="L69"><rect class="t" x="810" y="540" width="2" height="2"/><text class="l" x="809.5" y="540.2">0.0094</text><text class="n" x="813" y="543">Rcan_Rca7g02444</text></g>
<g id="L70"><rect class="t" x="803" y="548" width="2" height="2"/><text class="l" x="802.5" y="548.2">0.0987</text><text class="n" x="806" y="551">Rcum_Rcu1g01086</text></g>
<g id="L71"><rect class="t" x="847" y="556" width="2" height="2"/><text class="l" x="846.5" y="556.2">0.335</text><text class="n" x="850" y="559">Rcan_Rca7g02448</text></g>
<g id="L72"><rect class="t" x="788" y="565" width="2" height="2"/><text class="l" x="787.5" y="565.2">0.382</text><text class="n" x="791" y="568">Lasa_Lsa4g00865</text></g>
<g id="L73"><rect class="t" x="763" y="572" width="2" height="2"/><text class="l" x="762.5" y="572.2">0.344</text><text class="n" x="766" y="575">Tsan_Tsa4g02854</text></g>
<g id="L74"><rect class="t" x="922" y="580" width="2" height="2"/><text class="l" x="921.5" y="580.2">0.591</text><text class="n" x="925" y="583">Rcan_Rca7g02115</text></g>
<g id="L75"><rect class="t" x="765" y="587" width="2" height="2"/><text class="l" x="764.5" y="587.2">0.0888</text><text class="n" x="768" y="590">Lasa_Lsa4g02511</text></g>
<g id="L76"><rect class="t" x="763" y="595" width="2" height="2"/><text class="l" x="762.5" y="595.2">0.032</text><text class="n" x="766" y="598">Lasa_Lsa1g00865</text></g>
<g id="L77"><rect class="t" x="810" y="602" width="2" height="2"/><text class="l" x="809.5" y="602.2">0.0333</text><text class="n" x="813" y="605">Rcan_Rca7g02117</text></g>
<g id="L78"><rect class="t" x="816" y="610" width="2" height="2"/><text class="l" x="815.5" y="610.2">0.0444</text><text class="n" x="819" y="613">Rcum_Rcu1g01388</text></g>
<g id="L79"><rect class="t" x="865" y="620" width="2" height="2"/><text class="l" x="864.5" y="620.2">0.169</text><text class="n" x="868" y="623">Rcum_Rcu1g01387</text></g>
<g id="L80"><rect class="t" x="773" y="627" width="2" height="2"/><text class="l" x="772.5" y="627.2">0.435</text><text class="n" x="776" y="630">Hypa_Hpa1000074g00013</text></g>
<g id="L81"><rect class="t" x="962" y="634" width="2" height="2"/><text class="l" x="961.5" y="634.2">0.395</text><text class="n" x="965" y="637">Caf_Caf1g00826</text></g>
<g id="L82"><rect class="t" x="830" y="643" width="2" height="2"/><text class="l" x="829.5" y="643.2">0.084</text><text class="n" x="833" y="646">Ccas_Cca1g00610</text></g>
<g id="L83"><rect class="t" x="777" y="651" width="2" height="2"/><text class="l" x="776.5" y="651.2">0.188</text><text class="n" x="780" y="654">Ccar_Cca1g00786</text></g>
<g id="L84"><rect class="t" x="773" y="659" width="2" height="2"/><text class="l" x="772.5" y="659.2">0.102</text><text class="n" x="776" y="662">Rsan_San1g00512</text></g>
<g id="L85"><rect class="t" x="816" y="667" width="2" height="2"/><text class="l" x="815.5" y="667.2">0.375</text><text class="n" x="819" y="670">Aria_Ara1g00680</text></g>
<g id="L86"><rect class="t" x="888" y="675" width="2" height="2"/><text class="l" x="887.5" y="675.2">0.0838</text><text class="n" x="891" y="678">Caf_Caf1g01438</text></g>
<g id="L87"><rect class="t" x="930" y="682" width="2" height="2"/><text class="l" x="929.5" y="682.2">0.356</text><text class="n" x="933" y="685">Caf_Caf1g02097</text></g>
<g id="L88"><rect class="t" x="908" y="691" width="2" height="2"/><text class="l" x="907.5" y="691.2">0.0617</text><text class="n" x="911" y="694">Ccas_Cca2g00291</text></g>
<g id="L89"><rect class="t" x="837" y="698" width="2" height="2"/><text class="l" x="836.5" y="698.2">0.102</text><text class="n" x="840" y="701">Rsan_San1g00513</text></g>
<g id="L90"><rect class="t" x="992" y="706" width="2" height="2"/><text class="l" x="991.5" y="706.2">0.355</text><text class="n" x="995" y="709">Aria_Ara1g00689</text></g>
<g id="L91"><rect class="t" x="908" y="714" width="2" height="2"/><text class="l" x="907.5" y="714.2">0.138</text><text class="n" x="911" y="717">Ccas_Cca1g00271</text></g>
<g id="L92"><rect class="t" x="840" y="721" width="2" height="2"/><text class="l" x="839.5" y="721.2">0.375</text><text class="n" x="843" y="724">Aary_Aary1g00913</text></g>
<g id="L93"><rect class="t" x="777" y="730" width="2" height="2"/><text class="l" x="776.5" y="730.2">0.05</text><text class="n" x="780" y="733">Aary_Aary1g00912</text></g>
<g id="L94"><rect class="t" x="822" y="737" width="2" height="2"/><text class="l" x="821.5" y="737.2">0.05</text><text class="n" x="825" y="740">Achr_Ach1g00709</text></g>
<g id="L95"><rect class="t" x="870" y="746" width="2" height="2"/><text class="l" x="869.5" y="746.2">0.33</text><text class="n" x="873" y="749">Aarn_Aan3g00164</text></g>
<g id="L96"><rect class="t" x="925" y="753" width="2" height="2"/><text class="l" x="924.5" y="753.2">0.0004</text><text class="n" x="928" y="756">Chma_Chm27g00058</text></g>
<g id="L97"><rect class="t" x="925" y="761" width="2" height="2"/><text class="l" x="924.5" y="761.2">77.77</text><text class="n" x="928" y="764">Chma_Chm29g00081</text></g>
<g id="L98"><rect class="t" x="897" y="768" width="2" height="2"/><text class="l" x="896.5" y="768.2">0.88888</text><text class="n" x="900" y="771">Chma_Chm4g00854</text></g>
<g id="L99"><rect class="t" x="895" y="777" width="2" height="2"/><text class="l" x="894.5" y="777.2">77.77</text><text class="n" x="898" y="780">Chma_Chm4g00580</text></g>
<g id="L100"><rect class="t" x="950" y="785" width="2" height="2"/><text class="l" x="949.5" y="785.2">0.608</text><text class="n" x="953" y="788">Chma_Chm4g00310</text></g>
<g id="L101"><rect class="t" x="970" y="792" width="2" height="2"/><text class="l" x="969.5" y="792.2">0.0887</text><text class="n" x="973" y="795">Chma_Chm29g02025</text></g>
<g id="L102"><rect class="t" x="927" y="800" width="2" height="2"/><text class="l" x="926.5" y="800.2">0.0777</text><text class="n" x="930" y="803">Chma_Chm4g00341</text></g>
<g id="L103"><rect class="t" x="927" y="808" width="2" height="2"/><text class="l" x="926.5" y="808.2">0.8111</text><text class="n" x="930" y="811">Ecal_Ect4g00410</text></g>
<g id="L104"><rect class="t" x="854" y="816" width="2" height="2"/><text class="l" x="853.5" y="816.2">0.827</text><text class="n" x="857" y="819">Chma_Chm29g01556</text></g>
<g id="L105"><rect class="t" x="797" y="823" width="2" height="2"/><text class="l" x="796.5" y="823.2">0.0333</text><text class="n" x="800" y="826">Achr_Ach1g00728</text></g>
<g id="L106"><rect class="t" x="867" y="832" width="2" height="2"/><text class="l" x="866.5" y="832.2">0.482</text><text class="n" x="870" y="835">Pdy_Pdy1g02797</text></g>
<g id="L107"><rect class="t" x="833" y="841" width="2" height="2"/><text class="l" x="832.5" y="841.2">0.155</text><text class="n" x="836" y="844">Pri_Pri7g00004</text></g>
<g id="L108"><rect class="t" x="832" y="849" width="2" height="2"/><text class="l" x="831.5" y="849.2">0.155</text><text class="n" x="835" y="852">Pri_Pri7g00007</text></g>
<g id="L109"><rect class="t" x="800" y="856" width="2" height="2"/><text class="l" x="799.5" y="856.2">0.331</text><text class="n" x="803" y="859">Hbab_Hbab1000001g02211</text></g>
<g id="L110"><rect class="t" x="800" y="864" width="2" height="2"/><text class="l" x="799.5" y="864.2">0.331</text><text class="n" x="803" y="867">Pau_Pau1g02574</text></g>
<g id="L111"><rect class="t" x="874" y="872" width="2" height="2"/><text class="l" x="873.5" y="872.2">0.518</text><text class="n" x="877" y="875">Sesq_Seq1000009g01048</text></g>
<g id="L112"><rect class="t" x="807" y="880" width="2" height="2"/><text class="l" x="806.5" y="880.2">0.0887</text><text class="n" x="810" y="883">Hbab_Hbab1000001g02110</text></g>
<g id="L113"><rect class="t" x="807" y="888" width="2" height="2"/><text class="l" x="806.5" y="888.2">0.0888</text><text class="n" x="810" y="891">Pau_Pau1g02576</text></g>
<g id="L114"><rect class="t" x="957" y="895" width="2" height="2"/><text class="l" x="956.5" y="895.2">0.531</text><text class="n" x="960" y="898">Smes_Sme1g01470</text></g>
<g id="L115"><rect class="t" x="896" y="902" width="2" height="2"/><text class="n" x="899" y="905">Hasu_Has4g01415</text></g>
<g id="L116"><rect class="t" x="896" y="911" width="2" height="2"/><text class="n" x="899" y="914">Hasu_Has4g01422</text></g>
<g id="L117"><rect class="t" x="896" y="919" width="2" height="2"/><text class="n" x="899" y="922">Hasu_Has4g01426</text></g>
<g id="L118"><rect class="t" x="892" y="927" width="2" height="2"/><text class="l" x="891.5" y="927.2">0.032</text><text class="n" x="895" y="930">Hasu_Has5g01478</text></g>
<g id="L119"><rect class="t" x="884" y="934" width="2" height="2"/><text class="l" x="883.5" y="934.2">0.175</text><text class="n" x="887" y="937">Amir_Ami1g01682</text></g>
<g id="L120"><rect class="t" x="910" y="942" width="2" height="2"/><text class="l" x="909.5" y="942.2">0.222</text><text class="n" x="913" y="945">Amir_Ami1g01571</text></g>
<g id="L121"><rect class="t" x="955" y="949" width="2" height="2"/><text class="l" x="954.5" y="949.2">0.0956</text><text class="n" x="958" y="952">Rapi_Rap5g01389</text></g>
<g id="L122"><rect class="t" x="955" y="958" width="2" height="2"/><text class="l" x="954.5" y="958.2">77.77</text><text class="n" x="958" y="961">Rapi_Rap5g01366</text></g>
<g id="L123"><rect class="t" x="908" y="966" width="2" height="2"/><text class="l" x="907.5" y="966.2">0.315</text><text class="n" x="911" y="969">Ecah_Eca4g02488</text></g>
<g id="L124"><rect class="t" x="1090" y="974" width="2" height="2"/><text class="l" x="1089.5" y="974.2">0.0613</text><text class="n" x="1093" y="977">Bui_Bui3g02488</text></g>
<g id="L125"><rect class="t" x="1143" y="982" width="2" height="2"/><text class="l" x="1142.5" y="982.2">0.137</text><text class="n" x="1146" y="985">Bui_Bui3g02275</text></g>
<g id="L126"><rect class="t" x="839" y="990" width="2" height="2"/><text class="l" x="838.5" y="990.2">0.38</text><text class="n" x="842" y="993">Dit_Dit1g00724</text></g>
<g id="L127"><rect class="t" x="799" y="997" width="2" height="2"/><text class="l" x="798.5" y="997.2">0.0479</text><text class="n" x="802" y="1000">Dit_Dit2g01895</text></g>
</g>
<g id="scale-bar">
<path d="M4 1006H29M4 1004.5V1007.5M29 1004.5V1007.5" fill="none" stroke="#555" stroke-width="0.8"/>
<text x="5" y="1012" font-family="DejaVu Sans, sans-serif" font-size="4" fill="#555">0.05</text>
</g>
</svg>
